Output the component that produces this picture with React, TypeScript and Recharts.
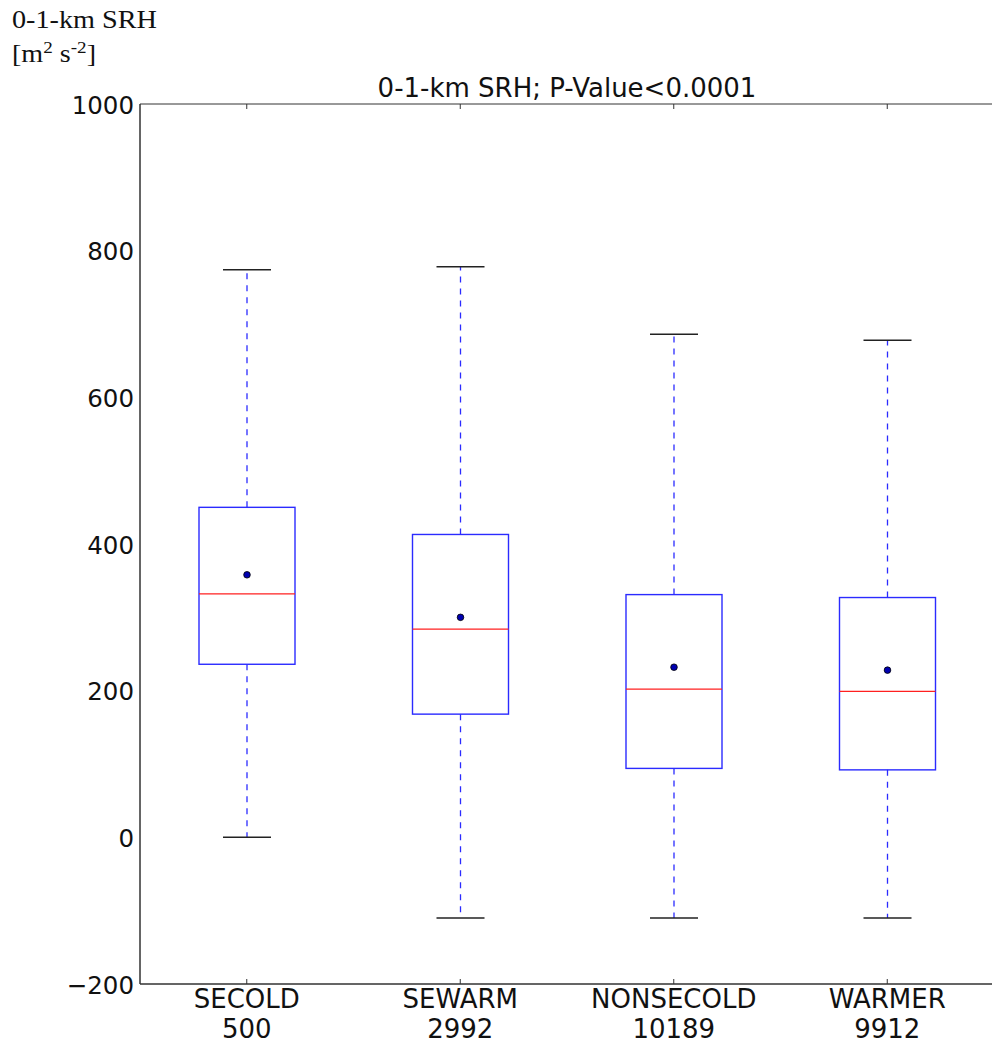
import React from "react";
import { ComposedChart, Bar, XAxis, YAxis } from "recharts";

// box plot summary
const categories = ["SECOLD", "SEWARM", "NONSECOLD", "WARMER"];
const counts = [500, 2992, 10189, 9912];
const whiskerLow = [0, -110, -110, -110];
const q1 = [236, 168, 94, 92];
const medians = [332, 284, 202, 199];
const q3 = [450, 413, 331, 327];
const whiskerHigh = [774, 778, 686, 678];
const means = [358, 300, 232, 228];

const yTicks = [-200, 0, 200, 400, 600, 800, 1000];

const data = categories.map((name, i) => ({
  name,
  count: counts[i],
  range: [whiskerLow[i], whiskerHigh[i]],
  q1: q1[i],
  median: medians[i],
  q3: q3[i],
  mean: means[i],
}));

const SANS = "'DejaVu Sans', sans-serif";
const SERIF = "'Liberation Serif', 'DejaVu Serif', serif";
const BLUE = "#2b2bff";
const SPINE = "#333";

function fmtY(v: number) {
  return v < 0 ? "\u2212" + Math.abs(v) : String(v);
}
const noLabel = () => "";

// draws whole box+whiskers inside the range bar rect
function BoxShape(props: any) {
  const { x, y, width, height, payload } = props;
  const top = Math.min(y, y + height);
  const bot = Math.max(y, y + height);
  const [lo, hi] = payload.range;
  const py = (v: number) => bot - ((bot - top) * (v - lo)) / (hi - lo);
  const cx = x + width / 2;
  const capW = width / 2;
  return (
    <g>
      <line x1={cx} x2={cx} y1={py(payload.q3)} y2={top} stroke={BLUE} strokeWidth={1.3} strokeDasharray="6 6" />
      <line x1={cx} x2={cx} y1={py(payload.q1)} y2={bot} stroke={BLUE} strokeWidth={1.3} strokeDasharray="6 6" />
      <line x1={cx - capW / 2} x2={cx + capW / 2} y1={top} y2={top} stroke="#222" strokeWidth={1.5} />
      <line x1={cx - capW / 2} x2={cx + capW / 2} y1={bot} y2={bot} stroke="#222" strokeWidth={1.5} />
      <rect
        x={x}
        y={py(payload.q3)}
        width={width}
        height={py(payload.q1) - py(payload.q3)}
        fill="none"
        stroke={BLUE}
        strokeWidth={1.4}
      />
      <line x1={x} x2={x + width} y1={py(payload.median)} y2={py(payload.median)} stroke="#ff2020" strokeWidth={1.3} />
      <circle cx={cx} cy={py(payload.mean)} r={3.3} fill="#0000b0" stroke="#000" strokeWidth={0.8} />
    </g>
  );
}

function XTick(props: any) {
  const { x, y, payload, index } = props;
  return (
    <g transform={`translate(${x},${y})`}>
      <text textAnchor="middle" x={0} y={18} fontSize={26} fontFamily={SANS} fill="#111">
        {payload.value}
      </text>
      <text textAnchor="middle" x={0} y={48} fontSize={26} fontFamily={SANS} fill="#111">
        {counts[index]}
      </text>
    </g>
  );
}

export default function App() {
  return (
    <div
      style={{
        position: "absolute",
        left: 0,
        top: 0,
        width: 992,
        height: 1044,
        overflow: "hidden",
        background: "#fff",
      }}
    >
      <ComposedChart
        width={1000}
        height={1044}
        data={data}
        margin={{ top: 104, right: 6, bottom: 0, left: 80 }}
      >
        {/* label axes */}
        <XAxis
          dataKey="name"
          height={60}
          interval={0}
          tick={<XTick />}
          tickLine={false}
          tickMargin={0}
          stroke={SPINE}
        />
        <YAxis
          type="number"
          domain={[-200, 1000]}
          ticks={yTicks}
          interval={0}
          width={60}
          tickFormatter={fmtY}
          tickLine={false}
          tickMargin={0}
          stroke={SPINE}
          tick={{ fontSize: 24.5, fontFamily: SANS, fill: "#111", dy: 1 }}
          allowDataOverflow
        />
        {/* mirrored axes: spines with inward ticks on all sides */}
        <XAxis
          xAxisId="bt"
          dataKey="name"
          mirror
          height={1}
          interval={0}
          tickSize={5}
          tickFormatter={noLabel}
          stroke={SPINE}
        />
        <XAxis
          xAxisId="tp"
          dataKey="name"
          orientation="top"
          mirror
          height={1}
          interval={0}
          tickSize={5}
          tickFormatter={noLabel}
          stroke={SPINE}
        />
        <YAxis
          yAxisId="lt"
          type="number"
          domain={[-200, 1000]}
          ticks={yTicks}
          interval={0}
          mirror
          width={1}
          tickSize={5}
          tickFormatter={noLabel}
          stroke={SPINE}
        />
        <YAxis
          yAxisId="rt"
          type="number"
          orientation="right"
          domain={[-200, 1000]}
          ticks={yTicks}
          interval={0}
          mirror
          width={1}
          tickSize={5}
          tickFormatter={noLabel}
          stroke={SPINE}
        />
        <Bar dataKey="range" barSize={96} shape={<BoxShape />} isAnimationActive={false} />
      </ComposedChart>
      <svg
        width={992}
        height={110}
        style={{ position: "absolute", left: 0, top: 0, pointerEvents: "none" }}
      >
        <text x={12} y={28} fontSize={25} fontFamily={SERIF} fill="#111" textLength={145} lengthAdjust="spacingAndGlyphs">
          0-1-km SRH
        </text>
        <text x={12} y={62} fontSize={25} fontFamily={SERIF} fill="#111" textLength={84} lengthAdjust="spacingAndGlyphs">
          [m
          <tspan dy={-9} fontSize={17}>2</tspan>
          <tspan dy={9}> s</tspan>
          <tspan dy={-9} fontSize={17}>-2</tspan>
          <tspan dy={9}>]</tspan>
        </text>
        <text x={567} y={97} textAnchor="middle" fontSize={26} fontFamily={SANS} fill="#111">
          0-1-km SRH; P-Value&lt;0.0001
        </text>
      </svg>
    </div>
  );
}
